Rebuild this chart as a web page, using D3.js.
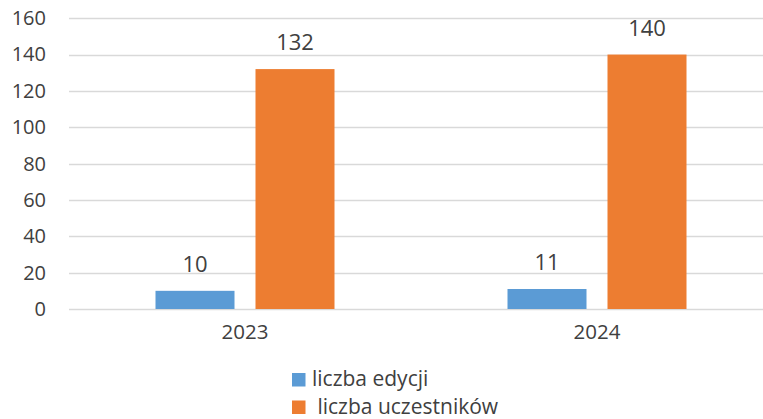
<!DOCTYPE html>
<html>
<head>
<meta charset="utf-8">
<script src="https://cdn.jsdelivr.net/npm/d3@7"></script>
<style>
    body { margin: 0; background: #fff; }
    svg { display: block; font-family: "Open Sans", sans-serif; }
    text { fill: #404040; white-space: pre; }
</style>
</head>
<body>
<svg id="chart" width="763" height="419"></svg>
<script>
(function() {

    //  Chart data
    var years = ['2023', '2024'];
    var seriesNames = ['liczba edycji', ' liczba uczestników'];
    var edycje = [10, 11];
    var uczestnicy = [132, 140];
    var yTicks = [0, 20, 40, 60, 80, 100, 120, 140, 160];

    var colors = ['#5b9bd5', '#ed7d31'];
    var seriesValues = [edycje, uczestnicy];

    var svg = d3.select('#chart');

    //  Scales (plot area runs past the right edge, like the source)
    var x = d3.scaleBand().domain(years).range([69, 773]);
    var inner = d3.scaleBand().domain(d3.range(seriesNames.length))
        .range([86.5, 265.5]).paddingInner(0.21);
    var y = d3.scaleLinear().domain([0, 160]).range([309, 18.2]);

    //  Gridlines
    svg.append('g')
        .selectAll('line')
        .data(yTicks)
        .enter().append('line')
        .attr('x1', 69).attr('x2', 773)
        .attr('y1', function(d) { return Math.round(y(d)) + 0.5; })
        .attr('y2', function(d) { return Math.round(y(d)) + 0.5; })
        .attr('stroke', '#d9d9d9')
        .attr('stroke-width', 1.3);

    //  Y axis labels
    var yAxis = svg.append('g')
        .attr('transform', 'translate(46,0)')
        .call(d3.axisLeft(y).tickValues(yTicks).tickSize(0).tickPadding(0));
    yAxis.select('.domain').remove();
    yAxis.selectAll('text')
        .attr('fill', '#404040')
        .style('font-size', '20px')
        .style('font-family', '"Open Sans", sans-serif');

    //  X axis labels
    var xAxis = svg.append('g')
        .attr('transform', 'translate(0,' + 324 + ')')
        .call(d3.axisBottom(x).tickSize(0).tickPadding(0));
    xAxis.select('.domain').remove();
    xAxis.selectAll('text')
        .attr('fill', '#404040')
        .attr('dy', '0.71em')
        .style('font-size', '20.5px')
        .style('font-family', '"Open Sans", sans-serif');

    //  Bars and value labels
    seriesValues.forEach(function(values, si) {
        var g = svg.append('g');

        g.selectAll('rect')
            .data(values)
            .enter().append('rect')
            .attr('x', function(d, i) { return x(years[i]) + inner(si); })
            .attr('y', function(d) { return y(d); })
            .attr('width', inner.bandwidth())
            .attr('height', function(d) { return y(0) - y(d); })
            .attr('fill', colors[si]);

        g.selectAll('text')
            .data(values)
            .enter().append('text')
            .attr('x', function(d, i) { return x(years[i]) + inner(si) + inner.bandwidth() / 2; })
            .attr('y', function(d) { return y(d) - 19; })
            .attr('text-anchor', 'middle')
            .style('font-size', '22px')
            .text(function(d) { return d; });
    });

    //  Legend
    var legend = svg.append('g')
        .selectAll('g')
        .data(seriesNames)
        .enter().append('g')
        .attr('transform', function(d, i) { return 'translate(292,' + (373 + i * 27.5) + ')'; });

    legend.append('rect')
        .attr('width', 13.5).attr('height', 13.5)
        .attr('fill', function(d, i) { return colors[i]; });

    legend.append('text')
        .attr('x', 20)
        .attr('y', 13)
        .style('font-size', '21px')
        .text(function(d) { return d; });

})();
</script>
</body>
</html>
